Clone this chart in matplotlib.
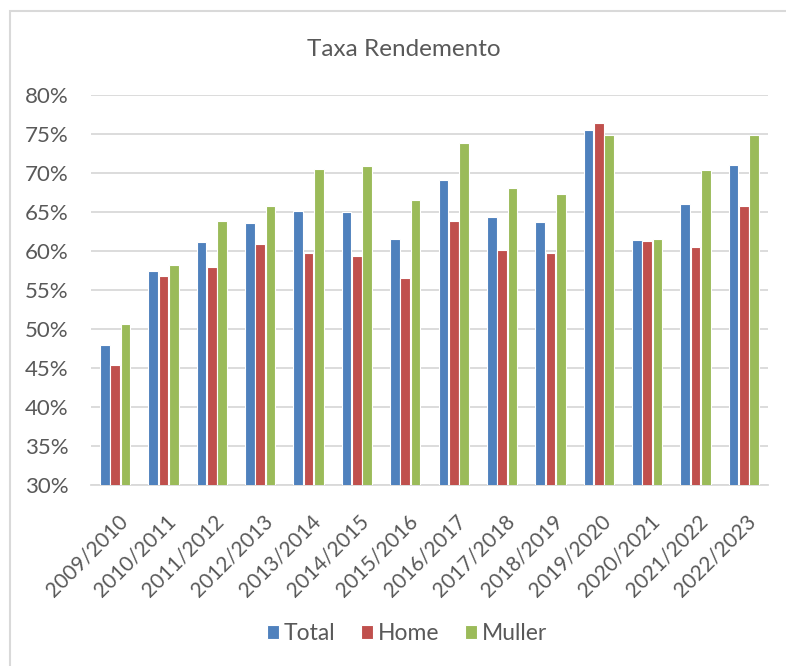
import numpy as np
import matplotlib.pyplot as plt
from matplotlib.patches import Rectangle
import matplotlib.transforms as mtransforms

plt.rcParams['font.family'] = ['Lato', 'DejaVu Sans']

# data (percent)
anos = ['2009/2010', '2010/2011', '2011/2012', '2012/2013', '2013/2014',
        '2014/2015', '2015/2016', '2016/2017', '2017/2018', '2018/2019',
        '2019/2020', '2020/2021', '2021/2022', '2022/2023']
total = [48.0, 57.5, 61.1, 63.6, 65.1, 65.0, 61.6, 69.1, 64.4, 63.7, 75.5, 61.4, 66.0, 71.0]
home = [45.4, 56.8, 58.0, 60.9, 59.8, 59.3, 56.5, 63.9, 60.1, 59.8, 76.4, 61.3, 60.5, 65.8]
muller = [50.6, 58.2, 63.9, 65.8, 70.5, 70.9, 66.5, 73.8, 68.1, 67.3, 74.9, 61.6, 70.4, 74.9]

cores = ['#4F81BD', '#C0504D', '#9BBB59']
cinza = '#595959'

fig = plt.figure(figsize=(7.86, 6.66), dpi=100)
ax = fig.add_axes([91/786, 1 - 485/666, (768 - 91)/786, 390/666])

x = np.arange(len(anos))
w = 0.2
for i, (serie, nome) in enumerate(zip([total, home, muller], ['Total', 'Home', 'Muller'])):
    ax.bar(x + (i - 1) * 0.213, serie, width=w, color=cores[i],
           edgecolor='white', linewidth=0.8, label=nome, zorder=3)

ax.set_xlim(-0.5, len(anos) - 0.5)
ax.set_ylim(30, 80)
ax.set_yticks(np.arange(30, 81, 5))
ax.set_yticklabels([f'{v}%' for v in range(30, 81, 5)])
ax.yaxis.grid(True, color='#D9D9D9', linewidth=1.3, zorder=0)
ax.set_axisbelow(True)
for s in ['top', 'right', 'left']:
    ax.spines[s].set_visible(False)
ax.spines['bottom'].set_color('#D9D9D9')
ax.spines['bottom'].set_linewidth(1.3)
ax.tick_params(length=0, colors=cinza, labelsize=16)
ax.tick_params(axis='y', pad=16)

ax.set_xticks(x)
ax.set_xticklabels(anos, rotation=45, ha='right', va='top', rotation_mode='anchor',
                   fontsize=15)
desloc = mtransforms.ScaledTranslation(2/100, -21/100, fig.dpi_scale_trans)
for lbl in ax.get_xticklabels():
    lbl.set_transform(lbl.get_transform() + desloc)

fig.text(404/786, 1 - 49/666, 'Taxa Rendemento', ha='center', va='center',
         fontsize=17.5, color=cinza)

fig.legend(loc='center', bbox_to_anchor=(407/786, 1 - 634/666), ncol=3,
           frameon=False, fontsize=16.5, handlelength=0.55, handleheight=0.55,
           handletextpad=0.2, columnspacing=1.1, labelcolor=cinza)

fig.add_artist(Rectangle((10/786, -0.2), 1.2, 1.2 - 11/666,
                         transform=fig.transFigure, fill=False,
                         edgecolor='#D9D9D9', linewidth=1.5))

fig.savefig('out.png', dpi=100)
